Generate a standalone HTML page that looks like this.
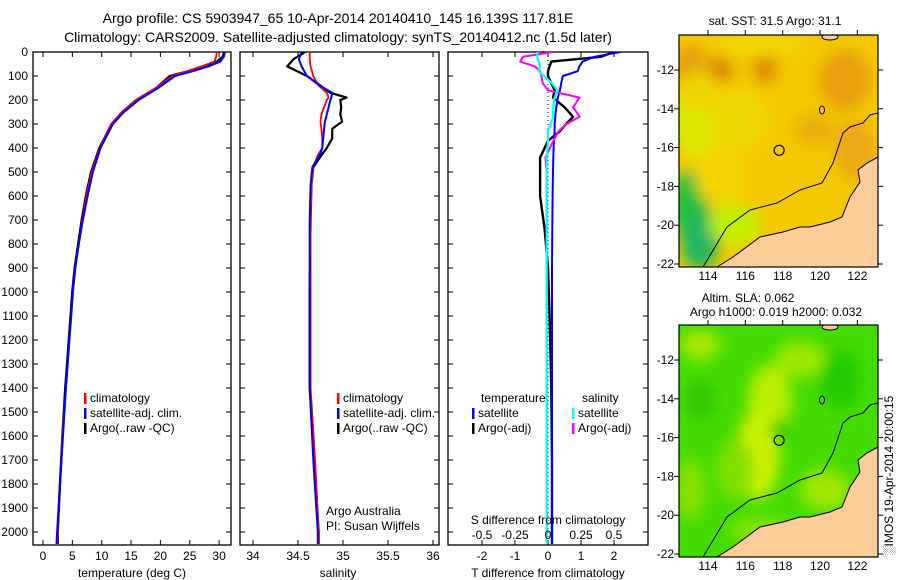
<!DOCTYPE html>
<html><head><meta charset="utf-8"><style>
html,body{margin:0;padding:0;background:#fff;}
svg{display:block;font-family:"Liberation Sans",sans-serif;}
</style></head><body>
<svg id="fig" width="900" height="580" viewBox="0 0 900 580" xmlns="http://www.w3.org/2000/svg">
<defs>
<filter id="blur6" x="-50%" y="-50%" width="200%" height="200%"><feGaussianBlur stdDeviation="7"/></filter>
<clipPath id="clipTop"><rect x="679" y="35" width="199" height="232"/></clipPath>
<clipPath id="clipBot"><rect x="679" y="325" width="199" height="232"/></clipPath>
<clipPath id="clipP1"><rect x="33" y="52" width="198" height="493"/></clipPath>
<clipPath id="clipP2"><rect x="240" y="52" width="199" height="493"/></clipPath>
<clipPath id="clipP3"><rect x="448" y="52" width="200" height="493"/></clipPath>
</defs>
<text x="338" y="23" text-anchor="middle" font-size="14">Argo profile: CS 5903947_65 10-Apr-2014 20140410_145 16.139S 117.81E</text>
<text x="338" y="42" text-anchor="middle" font-size="14">Climatology: CARS2009. Satellite-adjusted climatology: synTS_20140412.nc (1.5d later)</text>
<g id="g-temp"></g>
<g id="g-sal"></g>
<g id="g-diff"></g>
<g id="g-maps"></g>
</svg>
<script>
// ---- data ----
const depthTicks = [0,100,200,300,400,500,600,700,800,900,1000,1100,1200,1300,1400,1500,1600,1700,1800,1900,2000];
const tempTicks = [0,5,10,15,20,25,30];
const salTicks = [34,34.5,35,35.5,36];
const salTickLabels = ["34","34.5","35","35.5","36"];
const tdiffTicks = [-2,-1,0,1,2];
const sdiffTicks = [-0.5,-0.25,0,0.25,0.5];
const sdiffTickLabels = ["-0.5","-0.25","0","0.25","0.5"];

const profDepth = [0,20,40,60,80,100,150,200,250,300,400,500,600,700,800,900,1000,1100,1200,1300,1400,1600,1800,2000,2050];
const tempClim = [29.6,29.5,29.2,27.0,24.5,22.0,19.2,15.9,13.5,11.6,9.7,8.3,7.4,6.7,6.1,5.5,5.1,4.8,4.5,4.2,3.9,3.3,2.9,2.5,2.4];
const tempSat  = [31.0,30.8,30.2,28.2,25.5,22.5,19.6,16.3,13.8,11.9,9.8,8.5,7.6,6.8,6.1,5.5,5.1,4.8,4.5,4.2,3.9,3.4,2.9,2.4,2.3];
const tempArgo = [30.9,30.6,29.6,27.5,24.8,21.6,19.3,15.9,13.5,11.7,9.6,8.2,7.3,6.6,6.0,5.4,5.0,4.7,4.4,4.1,3.8,3.3,2.9,2.5,2.5];

const salDepth = [0,30,60,100,140,170,190,200,230,260,290,320,360,400,430,480,550,700,1000,1400,1700,2000,2050];
const salClim = [34.63,34.63,34.64,34.67,34.73,34.82,34.84,34.82,34.79,34.76,34.75,34.76,34.77,34.77,34.72,34.67,34.65,34.64,34.64,34.64,34.69,34.73,34.73];
const salSat  = [34.54,34.51,34.54,34.60,34.74,34.88,34.87,34.86,34.84,34.82,34.80,34.79,34.78,34.77,34.74,34.66,34.64,34.63,34.63,34.63,34.67,34.72,34.72];
const salArgo = [34.58,34.45,34.38,34.60,34.75,34.86,35.04,34.97,34.98,34.97,34.99,34.88,34.88,34.82,34.76,34.67,34.65,34.64,34.63,34.63,34.68,34.73,34.73];

const diffDepth = [0,20,40,60,80,100,130,160,190,230,270,300,330,370,440,500,600,740,900,1100,1400,1700,2000,2050];
const tdiffSat  = [2.2,1.4,1.05,0.95,0.9,0.45,0.4,0.36,0.3,0.25,0.22,0.2,0.2,0.18,0.16,0.15,0.14,0.13,0.12,0.12,0.12,0.12,0.12,0.12];
const tdiffArgo = [2.0,1.6,0.1,0.05,0.0,0.0,0.1,0.2,0.15,0.5,0.76,0.55,0.36,0.0,-0.24,-0.24,-0.24,-0.1,0.0,0.05,0.1,0.12,0.12,0.12];
const sdiffSat  = [-0.08,-0.08,-0.07,-0.06,-0.07,-0.03,0.03,0.07,0.05,0.04,0.04,0.02,0.0,0.0,-0.01,-0.01,-0.01,-0.01,-0.01,-0.01,-0.01,-0.01,-0.01,-0.01];
const sdiffArgo = [0.04,-0.19,-0.21,-0.1,-0.06,-0.05,-0.04,0.0,0.24,0.19,0.24,0.14,0.08,0.04,-0.02,-0.01,-0.01,-0.01,-0.01,-0.01,-0.01,-0.01,-0.01,-0.01];

const lonTicks = [114,116,118,120,122];
const latTicks = [-12,-14,-16,-18,-20,-22];
const argoLon = 117.81, argoLat = -16.139;

// ---- helpers ----
const NS = "http://www.w3.org/2000/svg";
function mk(parent, tag, attrs){ const e=document.createElementNS(NS,tag); for(const k in attrs) e.setAttribute(k,attrs[k]); parent.appendChild(e); return e; }
const Y0=52, PY=0.24;
function yD(d){ return Y0 + d*PY; }
const PTOP=52, PBOT=545;

function panel(g, x0, x1, name){
  const r = mk(g,'rect',{x:x0,y:PTOP,width:x1-x0,height:PBOT-PTOP,fill:'none',stroke:'#000','stroke-width':1.3});
  
  
}
function xticks(g, xs, fn, labels, y, name){
  xs.forEach((v,i)=>{
    const x=fn(v);
    mk(g,'line',{x1:x,x2:x,y1:PTOP,y2:PTOP+5,stroke:'#000'});
    mk(g,'line',{x1:x,x2:x,y1:PBOT,y2:PBOT-5,stroke:'#000'});
    if(labels){ const t=mk(g,'text',{x:x,y:y,'text-anchor':'middle','font-size':12}); t.textContent=labels[i];
      
       }
  });
}
function yticks(g,x0,x1){
  depthTicks.forEach(d=>{ const y=yD(d);
    mk(g,'line',{x1:x0,x2:x0+5,y1:y,y2:y,stroke:'#000'});
    mk(g,'line',{x1:x1,x2:x1-5,y1:y,y2:y,stroke:'#000'}); });
}
function line(g, xs, ds, fx, color, w, name, clip){
  const pts = xs.map((v,i)=>fx(v).toFixed(1)+','+yD(ds[i]).toFixed(1)).join(' ');
  const p = mk(g,'polyline',{points:pts,fill:'none',stroke:color,'stroke-width':w,'stroke-linejoin':'round','clip-path':'url(#'+clip+')'});
  
  
}
function legend(g, x, y, items){
  items.forEach((it,i)=>{
    mk(g,'rect',{x:x,y:y+i*15-9,width:2.5,height:11,fill:it[1]});
    const t=mk(g,'text',{x:x+6,y:y+i*15,'font-size':12}); t.textContent=it[0];
    
    
  });
}

// ---- temperature panel ----
const gT=document.getElementById('g-temp');
const fT=v=>43+v*5.87;
panel(gT,33,231,'temperature');
yticks(gT,33,231);
xticks(gT,tempTicks,fT,tempTicks.map(String),560,'temperature');
depthTicks.forEach(d=>{ const t=mk(gT,'text',{x:28,y:yD(d)+4,'text-anchor':'end','font-size':12}); t.textContent=d;
  
   });
line(gT,tempArgo,profDepth,fT,'#000',2.4,'temp-argo-line','clipP1');
line(gT,tempClim,profDepth,fT,'#f00',1.8,'temp-climatology-line','clipP1');
line(gT,tempSat,profDepth,fT,'#00f',2,'temp-satellite-line','clipP1');
legend(gT,84,402,[['climatology','#f00'],['satellite-adj. clim.','#00f'],['Argo(..raw -QC)','#000']]);
{const t=mk(gT,'text',{x:132,y:577,'text-anchor':'middle','font-size':12}); t.textContent='temperature (deg C)';
  }

// ---- salinity panel ----
const gS=document.getElementById('g-sal');
const fS=v=>253+(v-34)*90;
panel(gS,240,439,'salinity');
yticks(gS,240,439);
xticks(gS,salTicks,fS,salTickLabels,560,'salinity');
line(gS,salArgo,salDepth,fS,'#000',2.2,'sal-argo-line','clipP2');
line(gS,salClim,salDepth,fS,'#f00',1.8,'sal-climatology-line','clipP2');
line(gS,salSat,salDepth,fS,'#00f',2,'sal-satellite-line','clipP2');
legend(gS,337,402,[['climatology','#f00'],['satellite-adj. clim.','#00f'],['Argo(..raw -QC)','#000']]);
{const t=mk(gS,'text',{x:326,y:515,'font-size':12}); t.textContent='Argo Australia';
  }
{const t=mk(gS,'text',{x:326,y:530,'font-size':12}); t.textContent='PI: Susan Wijffels';
  }
{const t=mk(gS,'text',{x:338,y:577,'text-anchor':'middle','font-size':12}); t.textContent='salinity';
  }

// ---- difference panel ----
const gD=document.getElementById('g-diff');
const fTd=v=>548+v*33;
const fSd=v=>548+v*132;
panel(gD,448,648,'difference');
yticks(gD,448,648);
xticks(gD,tdiffTicks,fTd,tdiffTicks.map(String),560,'t-diff');
mk(gD,'line',{x1:548,x2:548,y1:PTOP,y2:PBOT,stroke:'#000','stroke-dasharray':'1,3'});
line(gD,tdiffArgo,diffDepth,fTd,'#000',2.4,'tdiff-argo-line','clipP3');
line(gD,tdiffSat,diffDepth,fTd,'#00f',2,'tdiff-satellite-line','clipP3');
line(gD,sdiffArgo,diffDepth,fSd,'#f0f',2,'sdiff-argo-line','clipP3');
line(gD,sdiffSat,diffDepth,fSd,'#0ff',2.2,'sdiff-satellite-line','clipP3');
sdiffTicks.forEach((v,i)=>{const t=mk(gD,'text',{x:fSd(v),y:539,'text-anchor':'middle','font-size':12}); t.textContent=sdiffTickLabels[i];
  });
{const t=mk(gD,'text',{x:548,y:524,'text-anchor':'middle','font-size':12}); t.textContent='S difference from climatology';
  }
{const t=mk(gD,'text',{x:548,y:577,'text-anchor':'middle','font-size':12}); t.textContent='T difference from climatology';
  }
{const t=mk(gD,'text',{x:481,y:402,'font-size':12}); t.textContent='temperature';
  }
{const t=mk(gD,'text',{x:582,y:402,'font-size':12}); t.textContent='salinity';
  }
legend(gD,472,417,[['satellite','#00f'],['Argo(-adj)','#000']]);
legend(gD,572,417,[['satellite','#0ff'],['Argo(-adj)','#f0f']]);

// ---- maps ----
const gM=document.getElementById('g-maps');
const MX0=679, MX1=878;
const fLon=v=>708+(v-114)*18.67;
const coast=[[717,267],[733,257],[760,237],[783,232],[800,227],[810,227],[830,222],[842,217],[850,197],[860,182],[858,170],[867,163],[878,157],[878,267]];
const contour=[[703,267],[727,227],[750,210],[777,203],[800,190],[822,183],[833,163],[843,133],[850,127],[863,123],[870,115],[878,113]];
function drawMap(top, kind){
  const off=top-35;
  const fLat=v=>70+off+(-12-v)*19.4;
  const clip = kind==='sst'?'clipTop':'clipBot';
  const g=mk(gM,'g',{'clip-path':'url(#'+clip+')'});
  
  
  if(kind==='sst'){
    mk(g,'rect',{x:MX0,y:top,width:199,height:232,fill:'#f4c800'});
    const bl=mk(g,'g',{filter:'url(#blur6)'});
    [[690,65,18,20,'#e8a010'],[720,70,12,12,'#d88000'],[765,65,12,18,'#dd8a00'],[845,80,25,30,'#e8a010'],[855,150,20,30,'#eca818'],[815,130,20,15,'#eaae10'],
     [700,120,28,40,'#dce800'],[740,120,30,30,'#ecd800'],[700,90,20,20,'#ecd400'],[690,205,18,35,'#22c040'],[700,240,20,30,'#20b860'],[735,225,25,20,'#c0f000'],[760,45,40,12,'#f0d800'],[720,175,25,30,'#f2d400']]
     .forEach(b=>mk(bl,'ellipse',{cx:b[0],cy:b[1]+off,rx:b[2],ry:b[3],fill:b[4]}));
  } else {
    mk(g,'rect',{x:MX0,y:top,width:199,height:232,fill:'#44dc00'});
    const bl=mk(g,'g',{filter:'url(#blur6)'});
    [[770,110,22,35,'#b8ee00'],[758,165,22,45,'#c8f000'],[700,55,20,15,'#a8ea00'],[800,70,25,18,'#a0e800'],[690,200,15,30,'#88e000'],[825,200,25,20,'#a0e800'],
     [735,180,18,30,'#80e000'],[760,240,30,12,'#88e400'],[840,90,20,30,'#20cc00'],[700,110,18,20,'#30cc00'],[780,140,10,10,'#20c800']]
     .forEach(b=>mk(bl,'ellipse',{cx:b[0],cy:b[1]+off,rx:b[2],ry:b[3],fill:b[4]}));
  }
  const land=mk(g,'polygon',{points:coast.map(p=>p[0]+','+(p[1]+off)).join(' '),fill:'#fccc99',stroke:'#000','stroke-width':1});
  
  
  mk(g,'polyline',{points:contour.map(p=>p[0]+','+(p[1]+off)).join(' '),fill:'none',stroke:'#000','stroke-width':1});
  mk(g,'ellipse',{cx:822,cy:110+off,rx:2.5,ry:4,fill:'none',stroke:'#000'});
  mk(g,'ellipse',{cx:830,cy:37+off,rx:8,ry:3,fill:'#fccc99',stroke:'#000'});
  const c=mk(g,'circle',{cx:fLon(argoLon),cy:fLat(argoLat),r:5,fill:'none',stroke:'#000','stroke-width':1.2});
  
  
  mk(gM,'rect',{x:MX0,y:top,width:199,height:232,fill:'none',stroke:'#000','stroke-width':1.2});
  lonTicks.forEach(v=>{const x=fLon(v);
    mk(gM,'line',{x1:x,x2:x,y1:top,y2:top-5,stroke:'#000'});
    const t=mk(gM,'text',{x:x,y:top+245,'text-anchor':'middle','font-size':12}); t.textContent=v;
     });
  latTicks.forEach(v=>{const y=fLat(v);
    mk(gM,'line',{x1:MX0,x2:MX0-5,y1:y,y2:y,stroke:'#000'});
    mk(gM,'line',{x1:MX1,x2:MX1+5,y1:y,y2:y,stroke:'#000'});
    const t=mk(gM,'text',{x:674,y:y+4,'text-anchor':'end','font-size':12}); t.textContent=v;
     });
}
drawMap(35,'sst');
drawMap(325,'sla');
{const t=mk(gM,'text',{x:775,y:25,'text-anchor':'middle','font-size':12}); t.textContent='sat. SST: 31.5 Argo: 31.1';
  }
{const t=mk(gM,'text',{x:748,y:302,'text-anchor':'middle','font-size':12}); t.textContent='Altim. SLA: 0.062';
  }
{const t=mk(gM,'text',{x:776,y:316,'text-anchor':'middle','font-size':12}); t.textContent='Argo h1000: 0.019 h2000: 0.032';
  }
{const t=mk(gM,'text',{x:893,y:555,'font-size':12,transform:'rotate(-90 893 555)'}); t.textContent='\u2591IMOS 19-Apr-2014 20:00:15';
  }
</script>
</body></html>
